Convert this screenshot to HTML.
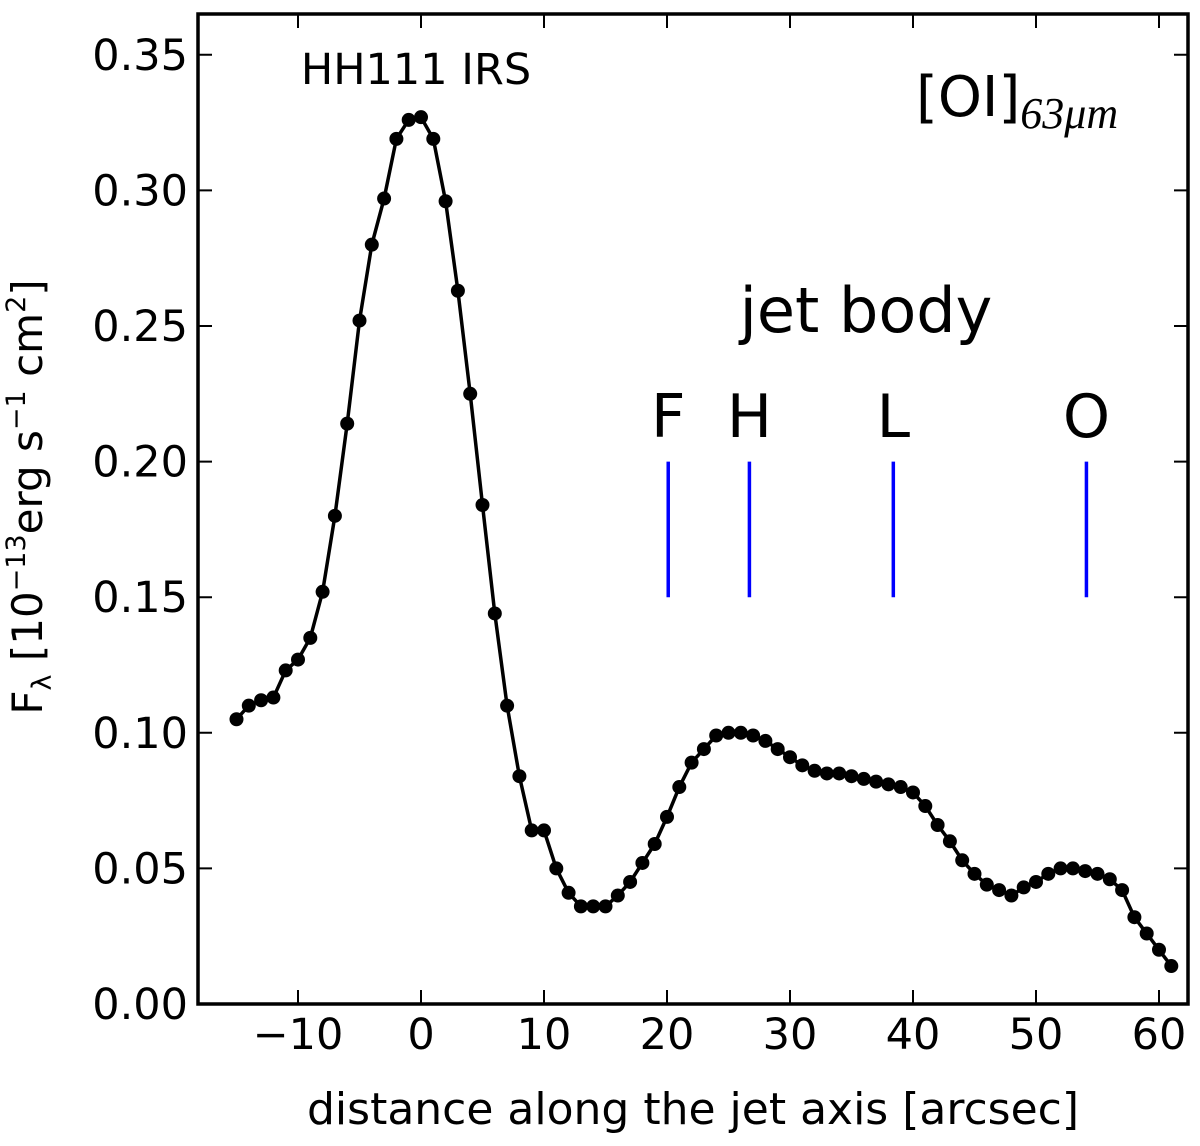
<!DOCTYPE html>
<html><head><meta charset="utf-8"><style>body{margin:0;background:#fff}svg{display:block;font-family:"DejaVu Sans","Liberation Sans",sans-serif}</style></head>
<body>
<svg id="chart" width="1200" height="1146" viewBox="0 0 1200 1146" xmlns="http://www.w3.org/2000/svg">
<g id="axes"></g>
<g id="series"></g>
<text x="416" y="84" font-size="43" text-anchor="middle">HH111 IRS</text>
<text x="916" y="116" font-size="56">[OI]<tspan font-family="Liberation Serif" font-style="italic" font-size="44" dy="12">63μm</tspan></text>
<text x="866" y="332" font-size="62" text-anchor="middle">jet body</text>
<text x="693" y="1124" font-size="44" text-anchor="middle">distance along the jet axis [arcsec]</text>
<text transform="translate(42,497) rotate(-90)" font-size="42" text-anchor="middle">F<tspan font-size="27" dy="9">λ</tspan><tspan dy="-9"> [10</tspan><tspan font-size="27" dy="-17">−13</tspan><tspan dy="17">erg s</tspan><tspan font-size="27" dy="-17">−1</tspan><tspan dy="17"> cm</tspan><tspan font-size="27" dy="-17">2</tspan><tspan dy="17">]</tspan></text>
</svg>
<script>
const xs=[-15,-14,-13,-12,-11,-10,-9,-8,-7,-6,-5,-4,-3,-2,-1,0,1,2,3,4,5,6,7,8,9,10,11,12,13,14,15,16,17,18,19,20,21,22,23,24,25,26,27,28,29,30,31,32,33,34,35,36,37,38,39,40,41,42,43,44,45,46,47,48,49,50,51,52,53,54,55,56,57,58,59,60,61];
const ys=[0.105,0.110,0.112,0.113,0.123,0.127,0.135,0.152,0.180,0.214,0.252,0.280,0.297,0.319,0.326,0.327,0.319,0.296,0.263,0.225,0.184,0.144,0.110,0.084,0.064,0.064,0.050,0.041,0.036,0.036,0.036,0.040,0.045,0.052,0.059,0.069,0.080,0.089,0.094,0.099,0.100,0.100,0.099,0.097,0.094,0.091,0.088,0.086,0.085,0.085,0.084,0.083,0.082,0.081,0.080,0.078,0.073,0.066,0.060,0.053,0.048,0.044,0.042,0.040,0.043,0.045,0.048,0.050,0.050,0.049,0.048,0.046,0.042,0.032,0.026,0.020,0.014];
const knotNames=['F','H','L','O'];
const knotPos=[20.1,26.7,38.4,54.1];
const xTicks=[-10,0,10,20,30,40,50,60];
const yTicks=[0,0.05,0.10,0.15,0.20,0.25,0.30,0.35];
const NS='http://www.w3.org/2000/svg';
const L=198,R=1188,T=14,B=1004;
const X=v=>421+(v)*12.3;
const Y=v=>1004-v*2712;
function mk(t,a,p){const e=document.createElementNS(NS,t);for(const k in a)e.setAttribute(k,a[k]);p.appendChild(e);return e;}
const ax=document.getElementById('axes'),se=document.getElementById('series'),svg=document.getElementById('chart');
const fr=mk('rect',{x:L,y:T,width:R-L,height:B-T,fill:'none',stroke:'#000','stroke-width':3.5},ax);


xTicks.forEach(v=>{const x=X(v);
const t=mk('path',{d:`M${x},${B}v-14M${x},${T}v14`,stroke:'#000','stroke-width':2},ax);


const l=mk('text',{x:x,y:1049,'font-size':43,'text-anchor':'middle'},ax);l.textContent=v<0?'−'+(-v):v;

});
yTicks.forEach(v=>{const y=Y(v);
const t=mk('path',{d:`M${L},${y}h14M${R},${y}h-14`,stroke:'#000','stroke-width':2},ax);


const l=mk('text',{x:188,y:y+15,'font-size':43,'text-anchor':'end'},ax);l.textContent=v.toFixed(2);

});
const pl=mk('polyline',{points:xs.map((x,i)=>X(x)+','+Y(ys[i])).join(' '),fill:'none',stroke:'#000','stroke-width':3.5},se);


xs.forEach((x,i)=>{const c=mk('circle',{cx:X(x),cy:Y(ys[i]),r:7,fill:'#000'},se);

});
knotNames.forEach((n,i)=>{const x=X(knotPos[i]);
const ln=mk('line',{x1:x,x2:x,y1:Y(0.20),y2:Y(0.15),stroke:'#0000ff','stroke-width':3.5},svg);


const t=mk('text',{x:x,y:437,'font-size':60,'text-anchor':'middle'},svg);t.textContent=n;

});
</script>
</body></html>
